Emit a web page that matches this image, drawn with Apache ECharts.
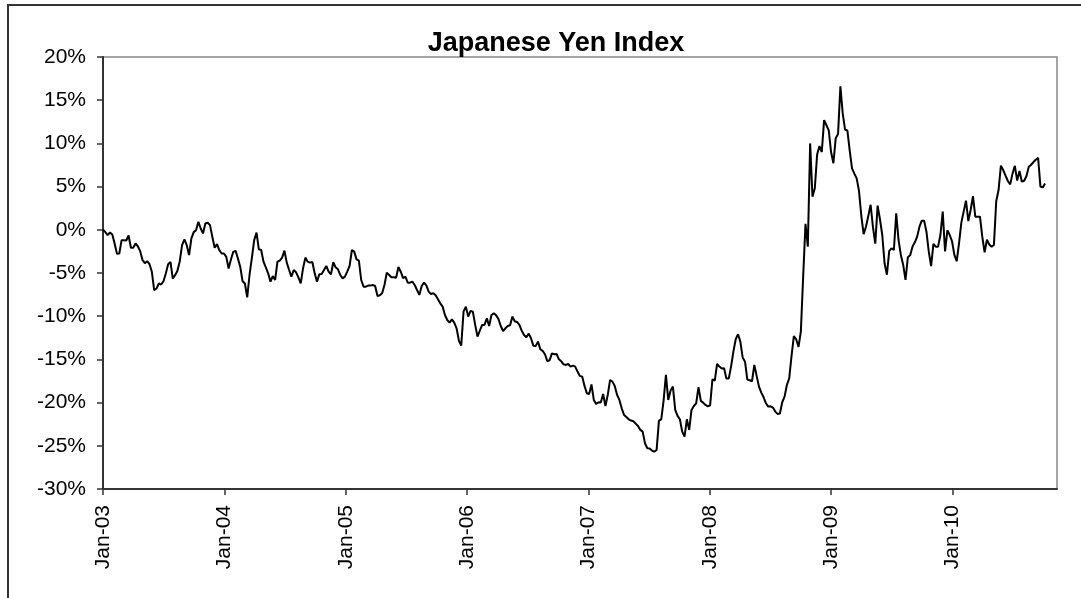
<!DOCTYPE html>
<html>
<head>
<meta charset="utf-8">
<title>Japanese Yen Index</title>
<script src="https://cdn.jsdelivr.net/npm/echarts@6/dist/echarts.min.js"></script>
<style>
    html, body { margin: 0; padding: 0; background: #fff; }
    #chart { width: 1081px; height: 598px; }
</style>
</head>
<body>
<div id="chart"></div>
<script>
    // weekly index readings (%), one array per calendar year, first week = Jan 2003
    var y2003 = [0, -0.27, -0.62, -0.31, -0.54, -1.58, -2.78, -2.74, -1.2, -1.2,
        -1.24, -0.66, -2.08, -2.08, -1.58, -1.93, -2.47, -3.51, -3.86, -3.63,
        -3.98, -4.86, -6.99, -6.8, -6.22, -6.33, -5.95, -5.06, -3.98, -3.71,
        -5.64, -5.25, -4.75, -3.63, -1.78, -1.12, -1.78, -2.93, -1.0, -0.27,
        -0.04, 0.93, 0.15, -0.42, 0.73, 0.81, 0.54, -0.81, -2.08, -1.66,
        -2.36, -2.74];
    var y2004 = [-2.74, -3.13, -4.48, -3.44, -2.55, -2.43, -3.32, -4.29, -5.95, -6.22,
        -7.82, -5.2, -3.25, -1.2, -0.33, -2.26, -2.34, -3.69, -4.34, -5.04,
        -6.0, -5.35, -5.81, -3.69, -3.57, -3.22, -2.41, -3.8, -4.65, -5.42,
        -4.65, -4.92, -5.5, -6.19, -4.46, -3.22, -3.69, -3.8, -3.73, -5.04,
        -6.0, -5.15, -5.11, -4.65, -4.19, -4.84, -5.15, -3.76, -4.34, -4.57,
        -5.23, -5.62];
    var y2005 = [-5.42, -4.84, -4.19, -2.34, -2.53, -3.42, -3.57, -5.81, -6.58, -6.58,
        -6.46, -6.46, -6.39, -6.5, -7.66, -7.58, -7.35, -6.39, -4.96, -5.23,
        -5.5, -5.5, -5.55, -4.3, -4.85, -5.6, -5.42, -6.12, -6.12, -6.0,
        -6.39, -6.97, -7.54, -6.5, -6.12, -6.43, -7.16, -7.43, -7.35, -7.58,
        -8.04, -8.51, -8.89, -9.86, -10.44, -10.74, -10.36, -10.74, -11.4, -12.83,
        -13.4, -9.47];
    var y2006 = [-8.89, -10.05, -9.39, -9.47, -11.01, -12.36, -11.67, -11.01, -11.01, -10.24,
        -11.13, -9.86, -9.66, -9.9, -10.32, -11.13, -11.71, -11.4, -11.13, -11.05,
        -10.05, -10.59, -10.67, -11.01, -11.67, -12.17, -12.44, -12.02, -12.56, -13.41,
        -13.44, -12.94, -13.83, -14.02, -14.4, -15.2, -15.1, -14.3, -14.4, -14.37,
        -14.99, -15.22, -15.57, -15.64, -15.53, -15.83, -15.72, -15.83, -16.41, -16.91,
        -16.99, -18.07];
    var y2007 = [-18.92, -19.0, -17.9, -19.69, -20.16, -19.96, -20.0, -19.0, -20.4, -19.11,
        -17.38, -17.57, -18.07, -19.11, -19.69, -20.66, -21.43, -21.66, -21.93, -22.08,
        -22.16, -22.43, -22.7, -23.16, -23.36, -24.7, -25.28, -25.32, -25.55, -25.67,
        -25.48, -22.08, -21.93, -19.77, -16.8, -19.69, -18.61, -18.15, -20.85, -21.54,
        -21.93, -23.36, -23.93, -21.93, -23.16, -20.85, -20.39, -20.08, -18.2, -19.8,
        -20.0, -20.27];
    var y2008 = [-20.43, -20.31, -17.3, -17.45, -15.53, -15.83, -16.06, -16.03, -17.22, -17.22,
        -15.83, -14.1, -12.67, -12.09, -12.94, -14.79, -15.26, -17.34, -17.41, -17.53,
        -15.64, -16.91, -18.15, -18.84, -19.38, -20.08, -20.46, -20.43, -20.58, -21.04,
        -21.31, -21.27, -19.96, -19.31, -17.96, -17.19, -14.6, -12.3, -12.67, -13.55,
        -11.8, -5.42, 0.7, -1.95, 10.0, 3.84, 4.8, 8.7, 9.7, 9.0,
        12.7, 12.1];
    var y2009 = [11.5, 9.0, 7.7, 10.6, 11.1, 16.6, 13.5, 11.6, 11.5, 9.2,
        7.1, 6.5, 5.95, 4.5, 1.6, -0.5, 0.35, 1.6, 2.9, 0.3,
        -1.6, 2.8, 1.25, -0.6, -3.88, -5.2, -2.45, -2.14, -2.34, 1.9,
        -1.18, -2.91, -4.07, -5.8, -3.18, -2.95, -1.95, -1.45, -0.79, 0.36,
        1.06, 1.06, -0.22, -2.53, -4.2, -1.64, -1.95, -1.95, -0.6, 2.1,
        -2.5, -0.06];
    var y2010 = [-0.6, -1.33, -2.91, -3.64, -1.57, 0.83, 2.1, 3.37, 1.0, 2.29,
        3.9, 1.52, 1.52, 1.52, -0.79, -2.6, -1.15, -1.7, -1.95, -1.76,
        3.3, 4.6, 7.42, 6.92, 6.26, 5.65, 5.26, 6.5, 7.4, 5.7,
        6.8, 5.57, 5.68, 6.22, 7.3, 7.53, 7.84, 8.11, 8.34, 5.0,
        4.91, 5.37];

    var yearTicks = [2003, 2004, 2005, 2006, 2007, 2008, 2009, 2010];
    var startYear = 2003;
    var axisEnd = 2010.86;

    var weekly = [].concat(y2003, y2004, y2005, y2006, y2007, y2008, y2009, y2010);
    // x = fractional year of each weekly observation
    var seriesData = weekly.map(function (v, i) {
        return [startYear + i * 7 / 365.25, v];
    });

    var font = "'Liberation Sans', Arial, sans-serif";
    var chart = echarts.init(document.getElementById('chart'));

    var option = {
        animation: false,
        backgroundColor: '#fff',
        title: {
            text: 'Japanese Yen Index',
            left: 551,
            top: 25,
            textAlign: 'center',
            textStyle: {
                fontFamily: font,
                fontSize: 27,
                fontWeight: 'bold',
                color: '#000'
            }
        },
        graphic: [{
            type: 'rect',
            silent: true,
            z: -10,
            shape: {x: 8, y: 5, width: 1086, height: 700},
            style: {fill: 'none', stroke: '#333', lineWidth: 2}
        }],
        grid: {
            left: 103,
            right: 24,
            top: 57,
            bottom: 109,
            show: true,
            borderColor: '#888',
            borderWidth: 1.5,
            backgroundColor: '#fff'
        },
        xAxis: {
            type: 'value',
            min: startYear,
            max: axisEnd,
            interval: 1,
            splitLine: {show: false},
            axisLine: {show: true, onZero: false, lineStyle: {color: '#333', width: 2}},
            axisTick: {
                show: true,
                length: 6,
                customValues: yearTicks,
                lineStyle: {color: '#333', width: 1.5}
            },
            axisLabel: {
                rotate: 90,
                margin: 16,
                fontFamily: font,
                fontSize: 21,
                color: '#000',
                customValues: yearTicks,
                formatter: function (v) {
                    if (Math.abs(v - Math.round(v)) > 1e-6) return '';
                    return 'Jan-' + String(Math.round(v)).slice(2);
                }
            }
        },
        yAxis: {
            type: 'value',
            min: -30,
            max: 20,
            interval: 5,
            splitLine: {show: false},
            axisLine: {show: true, lineStyle: {color: '#333', width: 2}},
            axisTick: {show: true, length: 6, lineStyle: {color: '#333', width: 1.5}},
            axisLabel: {
                margin: 17,
                fontFamily: font,
                fontSize: 21,
                color: '#000',
                formatter: '{value}%'
            }
        },
        series: [{
            name: 'Japanese Yen Index',
            type: 'line',
            data: seriesData,
            showSymbol: false,
            symbol: 'none',
            clip: true,
            lineStyle: {color: '#000', width: 2},
            z: 5
        }]
    };
    chart.setOption(option);
</script>
</body>
</html>
